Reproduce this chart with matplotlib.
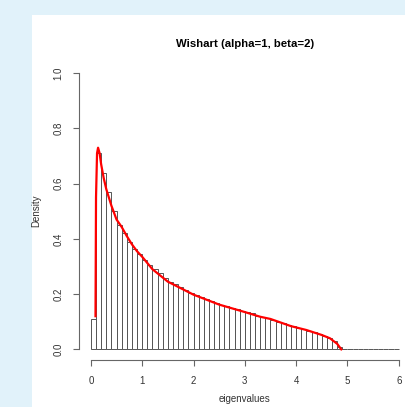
import numpy as np
import matplotlib
matplotlib.use("Agg")
from matplotlib import pyplot as plt
from matplotlib.patches import Rectangle

plt.rcParams['font.family'] = ['Liberation Sans', 'DejaVu Sans']

# histogram (bin width 0.1, from 0 to 6)
bin_left = [round(0.1 * i, 1) for i in range(60)]
density = [0.11, 0.71, 0.64, 0.57, 0.50, 0.45, 0.42, 0.39, 0.365, 0.345,
           0.325, 0.305, 0.29, 0.275, 0.26, 0.245, 0.235, 0.225, 0.215, 0.205,
           0.198, 0.19, 0.182, 0.175, 0.168, 0.162, 0.156, 0.15, 0.145, 0.14,
           0.135, 0.13, 0.122, 0.117, 0.112, 0.107, 0.10, 0.095, 0.088, 0.083,
           0.078, 0.072, 0.067, 0.062, 0.055, 0.048, 0.04, 0.03, 0.01, 0.0,
           0.0, 0.0, 0.0, 0.0, 0.0, 0.0, 0.0, 0.0, 0.0, 0.0]

# density curve (red line)
curve_x = [0.09, 0.10, 0.12, 0.14, 0.17, 0.20, 0.25, 0.30, 0.40, 0.50, 0.60,
           0.70, 0.80, 0.90, 1.00, 1.20, 1.50, 2.00, 2.50, 3.00, 3.30, 3.50,
           3.90, 4.20, 4.50, 4.66, 4.80, 4.88]
curve_y = [0.12, 0.55, 0.71, 0.73, 0.71, 0.67, 0.62, 0.58, 0.52, 0.47, 0.443,
           0.41, 0.38, 0.355, 0.335, 0.29, 0.245, 0.198, 0.162, 0.135, 0.118, 0.11,
           0.084, 0.07, 0.052, 0.04, 0.02, 0.0]

fig = plt.figure(figsize=(4.05, 4.07), dpi=100)
fig.patch.set_facecolor('#e1f2fa')
fig.patches.append(Rectangle((32 / 405, 0), 1, (407 - 15) / 407,
                             transform=fig.transFigure, facecolor='white',
                             edgecolor='none', zorder=-10))

ax = fig.add_axes([0.194, 0.1145, 0.821, 0.733])
ax.patch.set_alpha(0)

ax.bar(bin_left, density, width=0.1, align='edge', color='white',
       edgecolor='#555555', linewidth=0.7)
ax.plot(curve_x, curve_y, color='#ff0000', linewidth=1.6)

ax.set_xlim(-0.24, 6.24)
ax.set_ylim(-0.04, 1.04)
for s in ['top', 'right']:
    ax.spines[s].set_visible(False)
ax.spines['left'].set_bounds(0, 1)
ax.spines['bottom'].set_bounds(0, 6)
for s in ['left', 'bottom']:
    ax.spines[s].set_color('#666666')
    ax.spines[s].set_linewidth(0.8)

ax.set_xticks(range(7))
ax.set_yticks([0, 0.2, 0.4, 0.6, 0.8, 1.0])
ax.set_yticklabels(['0.0', '0.2', '0.4', '0.6', '0.8', '1.0'], rotation=90, va='center')
ax.tick_params(colors='#666666', labelcolor='#333333', labelsize=7,
               length=4, width=0.8, pad=7)

ax.set_title('Wishart (alpha=1, beta=2)', fontsize=8.2, fontweight='bold', pad=11)
ax.set_xlabel('eigenvalues', fontsize=7, color='#333333', labelpad=6)
ax.set_ylabel('Density', fontsize=7, color='#333333', labelpad=9)

fig.savefig('out.png', dpi=100, facecolor=fig.get_facecolor())
